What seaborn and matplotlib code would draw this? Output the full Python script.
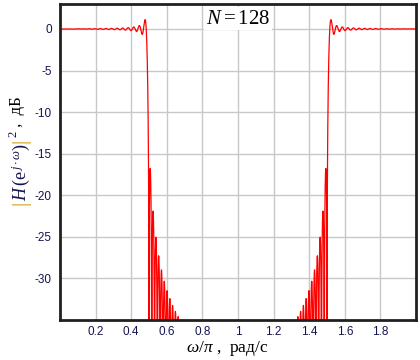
import numpy as np
import pandas as pd
import matplotlib
matplotlib.use("Agg")
import matplotlib.pyplot as plt
import seaborn as sns

# Частотная выборка КИХ-фильтра (N = 128 отсчётов АЧХ)
N = 128
# амплитуды отсчётов H[k], k = 0..N-1: полоса пропускания k = 0..31 и 97..127
Hk_mag = [1] * 32 + [0] * 65 + [1] * 31
n_dense = 64 * N  # число точек для построения H(e^jw)

x_ticks = [0.2, 0.4, 0.6, 0.8, 1.0, 1.2, 1.4, 1.6, 1.8]
x_tick_labels = ["0.2", "0.4", "0.6", "0.8", "1", "1.2", "1.4", "1.6", "1.8"]
y_ticks = [0, -5, -10, -15, -20, -25, -30]
y_lim = (-35, 3)

# линейная фаза для отсчётов, затем ОДПФ -> импульсная характеристика
k = np.arange(N)
k_signed = np.where(k < N // 2, k, k - N)
Hk = np.array(Hk_mag) * np.exp(-1j * np.pi * k_signed * (N - 1) / N)
h = np.fft.ifft(Hk)
H = np.fft.fft(h, n_dense)
w = 2 * np.arange(n_dense) / n_dense
H_db = 20 * np.log10(np.maximum(np.abs(H), 1e-6))

df = pd.DataFrame({"w": w, "db": H_db})

sns.set_style("white")
plt.rcParams["axes.unicode_minus"] = False
plt.rcParams["mathtext.fontset"] = "custom"
plt.rcParams["mathtext.rm"] = "Liberation Serif"
plt.rcParams["mathtext.it"] = "Liberation Serif:italic"

fig = plt.figure(figsize=(4.2, 3.6), dpi=100)
ax = fig.add_axes([60 / 420, 1 - 320 / 360, 356 / 420, 316 / 360])

sns.lineplot(data=df, x="w", y="db", ax=ax, color="red", lw=0.9,
             estimator=None, sort=False)

ax.set_xlim(0, 2)
ax.set_ylim(*y_lim)
ax.set_xticks(x_ticks)
ax.set_xticklabels(x_tick_labels)
ax.set_yticks(y_ticks)
ax.grid(True, color="#c8c8c8", lw=1)
ax.tick_params(direction="inout", length=6, width=1, color="black",
               labelsize=8.5, labelcolor="#141450", pad=3)
ax.tick_params(axis="x", pad=1.5)
for lbl in ax.get_xticklabels() + ax.get_yticklabels():
    lbl.set_family("Liberation Sans")
for s in ax.spines.values():
    s.set_color("#202020")
    s.set_linewidth(2)
ax.set_xlabel("")
ax.set_ylabel("")

# подпись оси x
fig.text(227 / 420, 1 - 352 / 360, r"$\omega/\pi$ ,  рад/с", ha="center", va="baseline",
         fontsize=12.5, family="Liberation Serif", color="black")

# подпись оси y: |H(e^jw)|^2 , дБ
gold = "#c89600"
t1 = fig.text(21 / 420, 1 - 205 / 360, "|", rotation=90, ha="center", va="bottom",
              fontsize=15, family="Liberation Serif", color=gold)
t2 = ax.annotate(r"$H\,(\mathrm{e}^{\,j\cdot\omega})$", xy=(0.5, 1), xycoords=t1,
                 rotation=90, ha="center", va="bottom", fontsize=13, color="#141450")
t3 = ax.annotate("|", xy=(0.5, 1), xycoords=t2, rotation=90, ha="center", va="bottom",
                 fontsize=15, family="Liberation Serif", color=gold,
                 annotation_clip=False)
t4 = ax.annotate(r"$^2$", xy=(0.3, 1), xycoords=t3, rotation=90, ha="center",
                 va="bottom", fontsize=13, color="#141450")
t5 = ax.annotate(" ,  дБ", xy=(0.5, 1), xycoords=t4, rotation=90, ha="center",
                 va="bottom", fontsize=12, family="Liberation Serif", color="black")

ax.text(1.0, 1.3, r"$N = 128$", ha="center", va="center", fontsize=15,
        color="black", bbox=dict(facecolor="white", edgecolor="none", pad=1))

fig.savefig("out.png", dpi=100)
